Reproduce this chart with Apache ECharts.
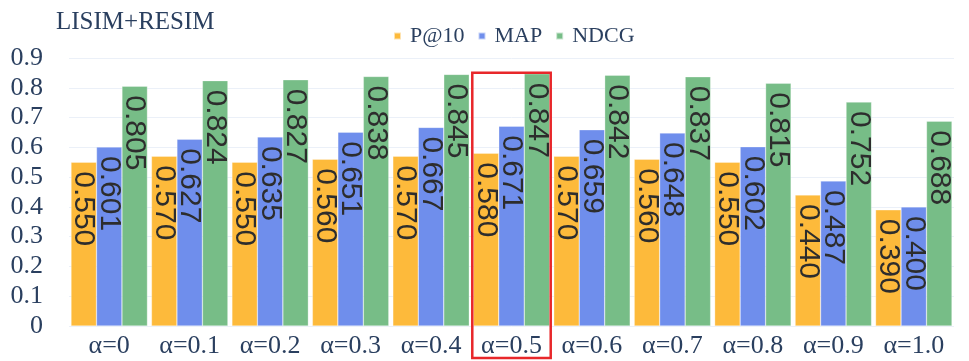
<!DOCTYPE html>
<html>
<head>
<meta charset="utf-8">
<script src="https://cdn.jsdelivr.net/npm/echarts@6/dist/echarts.min.js"></script>
<style>
  html, body { margin: 0; padding: 0; background: #fff; }
  #chart { width: 969px; height: 361px; }
</style>
</head>
<body>
<div id="chart"></div>
<script>
// Retrieval metrics for different weighting factors α
const categories = ['α=0', 'α=0.1', 'α=0.2', 'α=0.3', 'α=0.4', 'α=0.5', 'α=0.6', 'α=0.7', 'α=0.8', 'α=0.9', 'α=1.0'];
const p10  = [0.550, 0.570, 0.550, 0.560, 0.570, 0.580, 0.570, 0.560, 0.550, 0.440, 0.390];
const map  = [0.601, 0.627, 0.635, 0.651, 0.667, 0.671, 0.659, 0.648, 0.602, 0.487, 0.400];
const ndcg = [0.805, 0.824, 0.827, 0.838, 0.845, 0.847, 0.842, 0.837, 0.815, 0.752, 0.688];
const yTicks = [0, 0.1, 0.2, 0.3, 0.4, 0.5, 0.6, 0.7, 0.8, 0.9];
const highlighted = 'α=0.5';

const serif = '"Liberation Serif", "DejaVu Serif", serif';
const sans = '"Liberation Sans", Arial, sans-serif';
const inkColor = '#2a3f5f';

const chart = echarts.init(document.getElementById('chart'), null, { renderer: 'canvas' });

function barSeries(name, data, color) {
  return {
    name: name,
    type: 'bar',
    data: data,
    barGap: 0,
    barCategoryGap: '5%',
    itemStyle: { color: color, borderColor: 'rgba(255,255,255,0.6)', borderWidth: 0.5 },
    label: {
      show: true,
      position: 'insideTop',
      distance: 9,
      rotate: -90,
      align: 'left',
      verticalAlign: 'middle',
      fontFamily: sans,
      fontSize: 30,
      color: '#2d2d2d',
      formatter: p => p.value.toFixed(3)
    }
  };
}

chart.setOption({
  animation: false,
  backgroundColor: '#fff',
  title: {
    text: 'LISIM+RESIM',
    left: 51,
    top: 5,
    textStyle: { fontFamily: serif, fontSize: 25, fontWeight: 'normal', color: inkColor }
  },
  legend: {
    top: 20,
    left: 388,
    icon: 'rect',
    itemWidth: 7,
    itemHeight: 7,
    itemGap: 13,
    textStyle: { fontFamily: serif, fontSize: 22, color: inkColor, padding: [0, 0, 0, 4] }
  },
  grid: { left: 69, right: 15, top: 58, bottom: 35 },
  xAxis: {
    type: 'category',
    data: categories,
    axisLine: { show: false },
    axisTick: { show: false },
    axisLabel: { fontFamily: serif, fontSize: 26, color: inkColor, margin: 7 }
  },
  yAxis: {
    type: 'value',
    min: yTicks[0],
    max: yTicks[yTicks.length - 1],
    interval: 0.1,
    axisLine: { show: false },
    axisTick: { show: false },
    splitLine: { lineStyle: { color: '#ebf0f8', width: 1 } },
    axisLabel: {
      fontFamily: serif, fontSize: 26, color: inkColor, margin: 26,
      formatter: v => (Math.round(v * 10) / 10).toString()
    }
  },
  series: [
    barSeries('P@10', p10, '#fdba3b'),
    barSeries('MAP', map, '#6f8eec'),
    barSeries('NDCG', ndcg, '#77bd87')
  ]
});

// Outline around the highlighted α group, placed from the axis scales
function drawHighlight() {
  const idx = categories.indexOf(highlighted);
  const cx = chart.convertToPixel({ xAxisIndex: 0 }, categories[idx]);
  const cNext = chart.convertToPixel({ xAxisIndex: 0 }, categories[idx + 1]);
  const band = cNext - cx;
  const groupW = band * 0.95 + 2;
  const topVal = Math.max(p10[idx], map[idx], ndcg[idx]);
  const yTop = chart.convertToPixel({ yAxisIndex: 0 }, topVal) - 1;
  const yZero = chart.convertToPixel({ yAxisIndex: 0 }, 0);
  chart.setOption({
    graphic: [{
      type: 'rect',
      z: 100,
      shape: { x: cx - groupW / 2, y: yTop, width: groupW, height: yZero + 32 - yTop },
      style: { fill: 'none', stroke: '#e8272a', lineWidth: 2.5 }
    }]
  });
}
drawHighlight();
</script>
</body>
</html>
